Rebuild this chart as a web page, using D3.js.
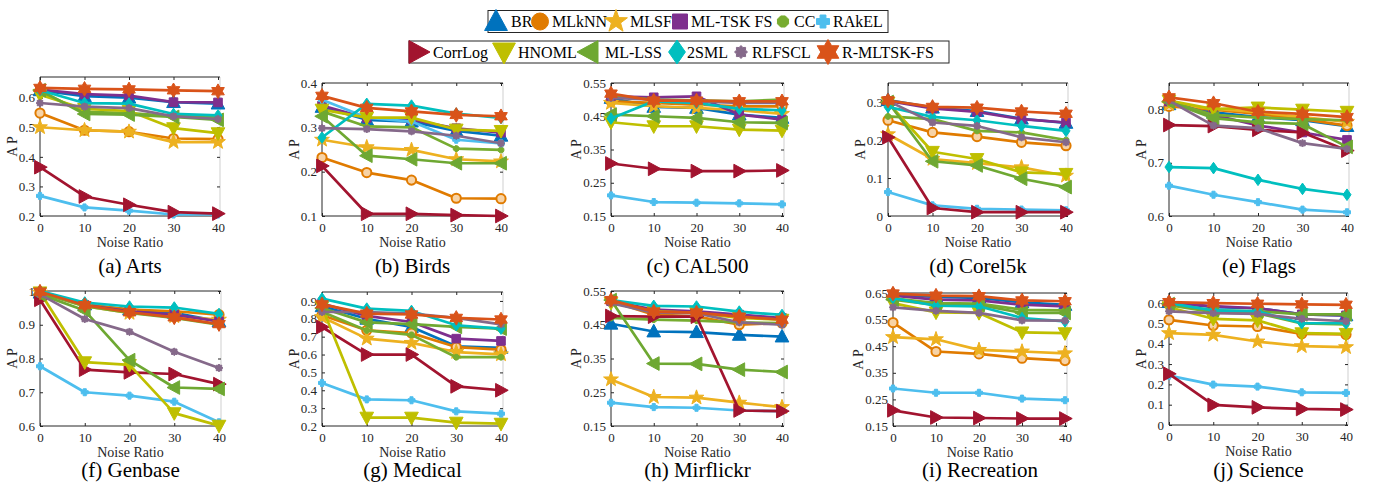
<!DOCTYPE html>
<html>
<head>
<meta charset="utf-8">
<script src="https://cdn.jsdelivr.net/npm/d3@7"></script>
<style>
  body { margin: 0; background: #fff; }
  svg { display: block; font-family: "Liberation Serif", "Times New Roman", serif; }
</style>
</head>
<body>
<svg id="chart" width="1376" height="486"></svg>
<script>
// ---- data ----
const noiseRatios = [0, 10, 20, 30, 40];
const methods = ['BR', 'MLkNN', 'MLSF', 'ML-TSK FS', 'CC', 'RAkEL',
  'CorrLog', 'HNOML', 'ML-LSS', '2SML', 'RLFSCL', 'R-MLTSK-FS'];
const methodColors = ['#0072BD', '#E07B00', '#EDB120', '#7E2F8E', '#77AC30', '#4DBEEE',
  '#A2142F', '#BFBF00', '#6EA832', '#00BFBF', '#85698A', '#D95319'];
const methodMarkers = ['triUp', 'circle', 'star5', 'square', 'octagon', 'plus',
  'triRight', 'triDown', 'triLeft', 'diamond', 'octagram', 'hexagram'];
const datasetNames = ['(a) Arts', '(b) Birds', '(c) CAL500', '(d) Corel5k', '(e) Flags',
  '(f) Genbase', '(g) Medical', '(h) Mirflickr', '(i) Recreation', '(j) Science'];

// AP per method (rows follow `methods`), columns follow `noiseRatios`
const arts = [
  [0.625, 0.605, 0.600, 0.585, 0.580],
  [0.548, 0.490, 0.485, 0.462, 0.460],
  [0.500, 0.490, 0.485, 0.450, 0.450],
  [0.627, 0.612, 0.607, 0.585, 0.584],
  [0.620, 0.552, 0.548, 0.538, 0.535],
  [0.268, 0.229, 0.218, 0.205, 0.205],
  [0.365, 0.266, 0.238, 0.213, 0.208],
  [0.610, 0.562, 0.555, 0.497, 0.480],
  [0.625, 0.545, 0.543, 0.535, 0.525],
  [0.625, 0.582, 0.580, 0.545, 0.540],
  [0.582, 0.570, 0.565, 0.537, 0.528],
  [0.633, 0.630, 0.628, 0.625, 0.622]
];
const birds = [
  [0.346, 0.317, 0.313, 0.292, 0.281],
  [0.232, 0.198, 0.181, 0.140, 0.139],
  [0.272, 0.255, 0.249, 0.228, 0.223],
  [0.349, 0.321, 0.317, 0.298, 0.288],
  [0.336, 0.302, 0.300, 0.252, 0.249],
  [0.362, 0.322, 0.313, 0.272, 0.264],
  [0.213, 0.105, 0.105, 0.102, 0.100],
  [0.340, 0.322, 0.322, 0.295, 0.292],
  [0.325, 0.236, 0.228, 0.219, 0.219],
  [0.277, 0.353, 0.349, 0.331, 0.321],
  [0.298, 0.296, 0.291, 0.281, 0.264],
  [0.371, 0.344, 0.336, 0.328, 0.325]
];
const cal500 = [
  [0.505, 0.478, 0.475, 0.455, 0.445],
  [0.495, 0.490, 0.485, 0.480, 0.480],
  [0.490, 0.480, 0.475, 0.468, 0.457],
  [0.510, 0.507, 0.510, 0.455, 0.440],
  [0.512, 0.500, 0.498, 0.495, 0.500],
  [0.212, 0.192, 0.190, 0.188, 0.185],
  [0.308, 0.292, 0.285, 0.285, 0.287],
  [0.432, 0.420, 0.420, 0.410, 0.407],
  [0.455, 0.450, 0.445, 0.432, 0.430],
  [0.443, 0.495, 0.490, 0.472, 0.468],
  [0.505, 0.500, 0.495, 0.490, 0.490],
  [0.518, 0.497, 0.497, 0.495, 0.495]
];
const corel5k = [
  [0.305, 0.285, 0.276, 0.256, 0.245],
  [0.252, 0.220, 0.209, 0.194, 0.185],
  [0.215, 0.150, 0.139, 0.128, 0.106],
  [0.303, 0.283, 0.274, 0.255, 0.246],
  [0.262, 0.255, 0.224, 0.220, 0.200],
  [0.063, 0.028, 0.019, 0.017, 0.015],
  [0.207, 0.021, 0.010, 0.010, 0.010],
  [0.298, 0.169, 0.150, 0.115, 0.111],
  [0.300, 0.144, 0.133, 0.098, 0.076],
  [0.287, 0.261, 0.252, 0.237, 0.224],
  [0.303, 0.246, 0.237, 0.207, 0.194],
  [0.304, 0.287, 0.285, 0.275, 0.269]
];
const flags = [
  [0.810, 0.795, 0.786, 0.780, 0.769],
  [0.806, 0.800, 0.792, 0.782, 0.770],
  [0.810, 0.802, 0.795, 0.786, 0.777],
  [0.815, 0.790, 0.770, 0.757, 0.743],
  [0.815, 0.790, 0.785, 0.782, 0.780],
  [0.657, 0.640, 0.626, 0.612, 0.607],
  [0.771, 0.769, 0.762, 0.757, 0.723],
  [0.817, 0.801, 0.804, 0.800, 0.796],
  [0.815, 0.784, 0.776, 0.773, 0.730],
  [0.692, 0.690, 0.668, 0.651, 0.640],
  [0.817, 0.770, 0.765, 0.737, 0.726],
  [0.823, 0.812, 0.796, 0.792, 0.786]
];
const genbase = [
  [0.995, 0.960, 0.945, 0.935, 0.910],
  [0.995, 0.960, 0.945, 0.940, 0.930],
  [0.995, 0.955, 0.935, 0.925, 0.915],
  [0.995, 0.958, 0.940, 0.930, 0.910],
  [0.995, 0.955, 0.935, 0.920, 0.900],
  [0.777, 0.700, 0.690, 0.672, 0.611],
  [0.974, 0.767, 0.759, 0.754, 0.724],
  [0.996, 0.789, 0.781, 0.638, 0.601],
  [0.990, 0.942, 0.795, 0.714, 0.710],
  [1.000, 0.966, 0.954, 0.951, 0.932],
  [0.990, 0.917, 0.879, 0.820, 0.772],
  [0.998, 0.958, 0.937, 0.922, 0.902]
];
const medical = [
  [0.870, 0.800, 0.754, 0.646, 0.637],
  [0.820, 0.736, 0.720, 0.642, 0.628],
  [0.810, 0.689, 0.665, 0.614, 0.601],
  [0.885, 0.816, 0.782, 0.689, 0.676],
  [0.840, 0.735, 0.710, 0.585, 0.585],
  [0.441, 0.349, 0.344, 0.282, 0.269],
  [0.754, 0.600, 0.600, 0.422, 0.400],
  [0.866, 0.247, 0.247, 0.219, 0.213],
  [0.860, 0.780, 0.770, 0.755, 0.745],
  [0.913, 0.857, 0.844, 0.764, 0.745],
  [0.838, 0.838, 0.829, 0.805, 0.769],
  [0.881, 0.829, 0.824, 0.805, 0.796]
];
const mirflickr = [
  [0.453, 0.430, 0.428, 0.420, 0.415],
  [0.520, 0.480, 0.475, 0.450, 0.455],
  [0.288, 0.236, 0.234, 0.219, 0.206],
  [0.520, 0.495, 0.490, 0.480, 0.470],
  [0.470, 0.465, 0.462, 0.457, 0.455],
  [0.219, 0.206, 0.204, 0.196, 0.194],
  [0.476, 0.474, 0.474, 0.196, 0.194],
  [0.515, 0.490, 0.485, 0.470, 0.465],
  [0.523, 0.335, 0.334, 0.317, 0.310],
  [0.523, 0.506, 0.504, 0.489, 0.479],
  [0.514, 0.486, 0.484, 0.457, 0.450],
  [0.523, 0.489, 0.486, 0.474, 0.465]
];
const recreation = [
  [0.645, 0.635, 0.632, 0.615, 0.605],
  [0.539, 0.430, 0.421, 0.405, 0.396],
  [0.484, 0.476, 0.436, 0.430, 0.423],
  [0.640, 0.625, 0.622, 0.606, 0.600],
  [0.630, 0.612, 0.610, 0.587, 0.585],
  [0.291, 0.275, 0.275, 0.253, 0.247],
  [0.209, 0.182, 0.180, 0.178, 0.178],
  [0.612, 0.577, 0.575, 0.502, 0.499],
  [0.625, 0.605, 0.605, 0.575, 0.575],
  [0.631, 0.602, 0.600, 0.556, 0.543],
  [0.596, 0.583, 0.575, 0.547, 0.546],
  [0.648, 0.640, 0.638, 0.622, 0.619]
];
const science = [
  [0.605, 0.580, 0.575, 0.545, 0.540],
  [0.518, 0.490, 0.485, 0.449, 0.446],
  [0.452, 0.444, 0.411, 0.388, 0.383],
  [0.600, 0.585, 0.575, 0.545, 0.540],
  [0.590, 0.555, 0.550, 0.500, 0.495],
  [0.243, 0.199, 0.189, 0.161, 0.158],
  [0.252, 0.099, 0.087, 0.079, 0.076],
  [0.580, 0.523, 0.515, 0.452, 0.449],
  [0.595, 0.565, 0.560, 0.545, 0.545],
  [0.600, 0.564, 0.560, 0.501, 0.501],
  [0.560, 0.551, 0.547, 0.523, 0.511],
  [0.605, 0.600, 0.597, 0.594, 0.592]
];
const datasetValues = [arts, birds, cal500, corel5k, flags, genbase, medical, mirflickr, recreation, science];

// axis limits and tick labels
const yLimits = [[0.2, 0.67], [0.1, 0.4], [0.15, 0.55], [0, 0.35], [0.6, 0.85],
  [0.6, 1.0], [0.2, 0.95], [0.15, 0.55], [0.15, 0.65], [0, 0.65]];
const yTicks = [
  [0.2, 0.3, 0.4, 0.5, 0.6],
  [0.1, 0.2, 0.3, 0.4],
  [0.15, 0.25, 0.35, 0.45, 0.55],
  [0, 0.1, 0.2, 0.3],
  [0.6, 0.7, 0.8],
  [0.6, 0.7, 0.8, 0.9, 1],
  [0.2, 0.3, 0.4, 0.5, 0.6, 0.7, 0.8, 0.9],
  [0.15, 0.25, 0.35, 0.45, 0.55],
  [0.15, 0.25, 0.35, 0.45, 0.55, 0.65],
  [0, 0.1, 0.2, 0.3, 0.4, 0.5, 0.6]
];

// ---- layout ----
const panels = [
  { left: 40, right: 218, top: 77, bottom: 216, title: 57 },
  { left: 322, right: 501, top: 83, bottom: 216, title: 57 },
  { left: 611, right: 782, top: 83, bottom: 216, title: 57 },
  { left: 888, right: 1066, top: 83, bottom: 216, title: 57 },
  { left: 1169, right: 1347, top: 83, bottom: 216, title: 57 },
  { left: 40, right: 219, top: 291, bottom: 426, title: 51 },
  { left: 322, right: 501, top: 292, bottom: 426, title: 51 },
  { left: 611, right: 782, top: 291, bottom: 426, title: 51 },
  { left: 893, right: 1065, top: 293, bottom: 426, title: 51 },
  { left: 1169, right: 1346, top: 293, bottom: 425, title: 52 }
];
const panelMarkerSize = { triUp: 7.2, circle: 4.6, star5: 7.8, square: 4.3, octagon: 3.1, plus: 3.5,
  triRight: 7.2, triDown: 7.2, triLeft: 7.2, diamond: 5.8, octagram: 3.9, hexagram: 7.3 };
const legendMarkerSize = { triUp: 12, circle: 8.5, star5: 12, square: 7.5, octagon: 6, plus: 6.5,
  triRight: 12, triDown: 12, triLeft: 12, diamond: 12, octagram: 6.5, hexagram: 12.5 };
const axisColor = '#262626';

// ---- marker shapes ----
function poly(pts) {
  return 'M' + pts.map(p => p[0].toFixed(2) + ',' + p[1].toFixed(2)).join('L') + 'Z';
}
function star(n, rOut, rIn) {
  const pts = [];
  for (let k = 0; k < 2 * n; k++) {
    const r = k % 2 ? rIn : rOut;
    const a = -Math.PI / 2 + k * Math.PI / n;
    pts.push([r * Math.cos(a), r * Math.sin(a)]);
  }
  return poly(pts);
}
function markerPath(type, r) {
  switch (type) {
    case 'triUp': return poly([[0, -r], [r * 0.95, r * 0.75], [-r * 0.95, r * 0.75]]);
    case 'triDown': return poly([[0, r], [r * 0.95, -r * 0.75], [-r * 0.95, -r * 0.75]]);
    case 'triRight': return poly([[r, 0], [-r * 0.75, -r * 0.95], [-r * 0.75, r * 0.95]]);
    case 'triLeft': return poly([[-r, 0], [r * 0.75, -r * 0.95], [r * 0.75, r * 0.95]]);
    case 'square': return poly([[-r, -r], [r, -r], [r, r], [-r, r]]);
    case 'diamond': return poly([[0, -r], [r * 0.7, 0], [0, r], [-r * 0.7, 0]]);
    case 'star5': return star(5, r, r * 0.4);
    case 'hexagram': return star(6, r, r * 0.58);
    case 'octagram': return star(8, r, r * 0.75);
    case 'octagon': {
      const pts = d3.range(8).map(k => {
        const a = Math.PI / 8 + k * Math.PI / 4;
        return [r * Math.cos(a), r * Math.sin(a)];
      });
      return poly(pts);
    }
    case 'plus': {
      const w = r * 0.45;
      return poly([[-w, -r], [w, -r], [w, -w], [r, -w], [r, w], [w, w], [w, r], [-w, r],
        [-w, w], [-r, w], [-r, -w], [-w, -w]]);
    }
    default: // circle
      return `M${r},0A${r},${r} 0 1,1 ${-r},0A${r},${r} 0 1,1 ${r},0Z`;
  }
}

const svg = d3.select('#chart');
const fmt = d3.format('~g');

// ---- panels ----
panels.forEach((p, i) => {
  const x = d3.scaleLinear().domain([0, 40]).range([p.left, p.right]);
  const y = d3.scaleLinear().domain(yLimits[i]).range([p.bottom, p.top]);
  const boxRight = p.right + 2;
  const g = svg.append('g').attr('class', 'panel');

  // right border is light in the reference
  g.append('line')
    .attr('x1', boxRight).attr('x2', boxRight)
    .attr('y1', p.top).attr('y2', p.bottom)
    .attr('stroke', '#cfcfcf').attr('stroke-width', 1);

  const yAxis = g.append('g')
    .attr('transform', `translate(${p.left},0)`)
    .call(d3.axisLeft(y).tickValues(yTicks[i]).tickFormat(fmt)
      .tickSizeInner(-3).tickSizeOuter(0).tickPadding(5));
  g.append('g')
    .attr('transform', `translate(0,${p.bottom})`)
    .call(d3.axisBottom(x).tickValues(noiseRatios).tickFormat(fmt)
      .tickSizeInner(-3).tickSizeOuter(0).tickPadding(7));
  g.append('g')
    .attr('transform', `translate(0,${p.top})`)
    .call(d3.axisTop(x).tickValues(noiseRatios).tickFormat('')
      .tickSizeInner(-3).tickSizeOuter(0));
  g.append('g')
    .attr('transform', `translate(${boxRight},0)`)
    .call(d3.axisRight(y).tickValues(yTicks[i]).tickFormat('')
      .tickSizeInner(-3).tickSizeOuter(0));

  g.selectAll('.domain').remove();
  g.selectAll('.tick line').attr('stroke', axisColor);
  g.selectAll('.tick text')
    .attr('fill', axisColor)
    .style('font-size', '13px')
    .style('font-family', '"Liberation Serif", "Times New Roman", serif');

  // box: left, bottom, top in black
  g.append('path')
    .attr('d', `M${boxRight},${p.top}H${p.left}V${p.bottom}H${boxRight}`)
    .attr('fill', 'none').attr('stroke', axisColor).attr('stroke-width', 1);

  // y label placed just left of the tick labels
  const labelsBox = yAxis.node().getBBox();
  const yMid = (p.top + p.bottom) / 2;
  g.append('text')
    .attr('transform', `translate(${p.left + labelsBox.x - 7},${yMid}) rotate(-90)`)
    .attr('text-anchor', 'middle')
    .attr('dy', '0.35em')
    .attr('fill', axisColor)
    .style('font-size', '14px')
    .text('A P');

  g.append('text')
    .attr('x', (p.left + boxRight) / 2)
    .attr('y', p.bottom + 31)
    .attr('text-anchor', 'middle')
    .attr('fill', axisColor)
    .style('font-size', '14px')
    .text('Noise Ratio');

  g.append('text')
    .attr('x', (p.left + boxRight) / 2)
    .attr('y', p.bottom + p.title)
    .attr('text-anchor', 'middle')
    .attr('fill', '#000')
    .style('font-size', '21px')
    .text(datasetNames[i]);

  // series: line then markers, in legend order so R-MLTSK-FS ends on top
  const line = d3.line()
    .x((d, k) => x(noiseRatios[k]))
    .y(d => y(d));
  datasetValues[i].forEach((vals, m) => {
    const color = methodColors[m];
    const type = methodMarkers[m];
    g.append('path')
      .datum(vals)
      .attr('d', line)
      .attr('fill', 'none')
      .attr('stroke', color)
      .attr('stroke-width', 2.7)
      .attr('stroke-linejoin', 'round');
    g.selectAll(null)
      .data(vals)
      .enter()
      .append('path')
      .attr('transform', (d, k) => `translate(${x(noiseRatios[k])},${y(d)})`)
      .attr('d', markerPath(type, panelMarkerSize[type]))
      .attr('fill', type === 'circle' ? '#f7d3a6' : color)
      .attr('stroke', color)
      .attr('stroke-width', type === 'circle' ? 2 : 1);
  });
});

// ---- legend (two boxed rows) ----
const legendRows = [
  { box: [488, 10.5, 888, 32.5], cy: 21.5, items: [0, 1, 2, 3, 4, 5],
    markerX: [496, 540, 616, 680, 783, 823], textX: [511, 552, 630, 691, 794, 833] },
  { box: [409, 41, 949, 63], cy: 52, items: [6, 7, 8, 9, 10, 11],
    markerX: [418, 504, 589, 677, 741, 828], textX: [433, 518, 605, 687, 752, 842] }
];
const legend = svg.append('g').attr('class', 'legend');
legendRows.forEach(row => {
  const [x0, y0, x1, y1] = row.box;
  legend.append('rect')
    .attr('x', x0).attr('y', y0)
    .attr('width', x1 - x0).attr('height', y1 - y0)
    .attr('fill', '#fff').attr('stroke', axisColor).attr('stroke-width', 1);
  row.items.forEach((m, j) => {
    const type = methodMarkers[m];
    legend.append('path')
      .attr('transform', `translate(${row.markerX[j]},${row.cy})`)
      .attr('d', markerPath(type, legendMarkerSize[type]))
      .attr('fill', methodColors[m])
      .attr('stroke', methodColors[m])
      .attr('stroke-width', 1);
    legend.append('text')
      .attr('x', row.textX[j])
      .attr('y', row.cy + 5.5)
      .attr('fill', '#000')
      .style('font-size', '16px')
      .text(methods[m]);
  });
});
</script>
</body>
</html>
